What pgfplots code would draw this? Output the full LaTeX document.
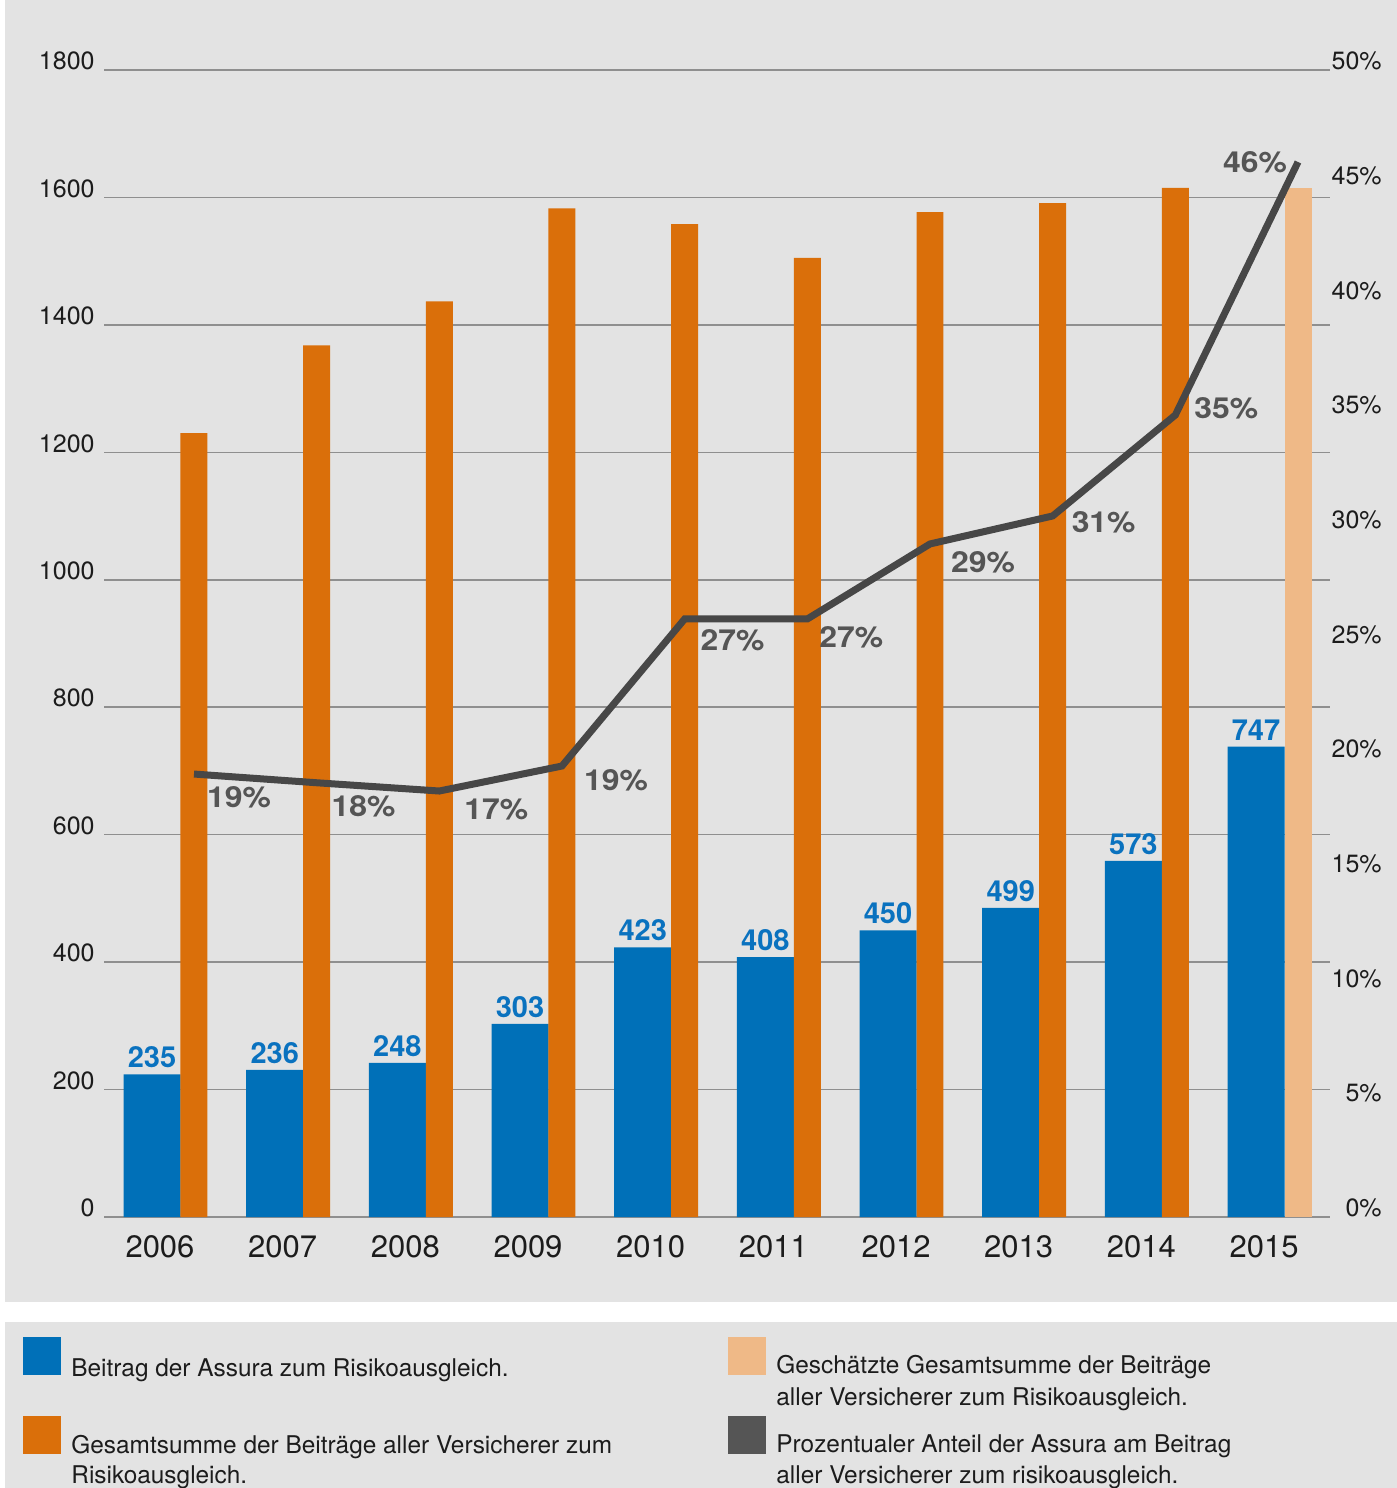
\documentclass[border=0pt]{standalone}
\usepackage{fontspec}
\setmainfont{TeX Gyre Heros}
\usepackage{pgfplots}
\pgfplotsset{compat=1.18}
\usepackage{pgfplotstable}

\definecolor{bg}{HTML}{E3E3E3}
\definecolor{cblue}{HTML}{0070B8}
\definecolor{corange}{HTML}{DA6F0A}
\definecolor{clight}{HTML}{EFB987}
\definecolor{cline}{HTML}{474747}
\definecolor{clab}{HTML}{555555}
\definecolor{cgrid}{HTML}{8F8F8F}
\definecolor{cblab}{HTML}{0A72BF}
\definecolor{ctext}{HTML}{1C1C1C}

% Assura contribution (blue bars): drawn height and printed label
\pgfplotstableread{
x y lab
-0.065 224 235
0.935 231 236
1.935 242 248
2.935 303 303
3.935 423 423
4.935 408 408
5.935 450 450
6.935 485 499
7.935 559 573
8.935 738 747
}\bluedata

% total of all insurers (orange bars)
\pgfplotstableread{
x y
0.277 1230
1.277 1368
2.277 1437
3.277 1583
4.277 1558
5.277 1505
6.277 1577
7.277 1591
8.277 1615
}\orangedata

% estimated total 2015
\pgfplotstableread{
x y
9.277 1615
}\lightdata

% share of Assura in percent
\pgfplotstableread{
x y lab dx dy
0.277 19.31 19 22.5 -11.5
1.277 18.93 18 23.5 -12
2.277 18.57 17 28.5 -9
3.277 19.66 19 27 -7
4.277 26.07 27 24 -10.5
5.277 26.07 27 22 -9
6.277 29.34 29 26.5 -9
7.277 30.56 31 25.5 -3
8.277 34.96 35 25.5 3.5
9.277 45.99 46 -21.5 0
}\pctdata

\begin{document}
\begin{tikzpicture}
\useasboundingbox (0,0) rectangle (698.5pt,-744pt);
\begin{scope}[x=0.5pt,y=-0.5pt]
\fill[white] (0,0) rectangle (1397,1488);
\fill[bg] (5,0) rectangle (1397,1302);
\fill[bg] (5,1322) rectangle (1397,1488);
% legend
\fill[cblue] (23,1337) rectangle (61,1375);
\fill[corange] (23,1416) rectangle (61,1454);
\fill[clight] (728,1337) rectangle (766,1375);
\fill[clab] (728,1416) rectangle (766,1454);
\begin{scope}[every node/.style={anchor=base west, inner sep=0pt, text=ctext, font=\fontsize{12.2}{14}\selectfont}]
\node at (71,1376) {Beitrag der Assura zum Risikoausgleich.};
\node at (71,1453) {Gesamtsumme der Beiträge aller Versicherer zum};
\node at (71,1483) {Risikoausgleich.};
\node at (776,1373) {Geschätzte Gesamtsumme der Beiträge};
\node at (776,1405) {aller Versicherer zum Risikoausgleich.};
\node at (776,1452) {Prozentualer Anteil der Assura am Beitrag};
\node at (776,1483) {aller Versicherer zum risikoausgleich.};
\end{scope}
\end{scope}

\begin{axis}[
  at={(52pt,-608.5pt)}, anchor=south west,
  scale only axis, width=613pt, height=573.5pt,
  xmin=-0.4565, xmax=9.538, ymin=0, ymax=1800,
  axis line style={draw=none},
  major tick length=0pt,
  ytick={0,200,...,1800},
  xtick={0,1,2,3,4,5,6,7,8,9},
  xticklabels={2006,2007,2008,2009,2010,2011,2012,2013,2014,2015},
  ymajorgrids, grid style={cgrid, line width=0.75pt},
  /pgf/number format/assume math mode=true,
  /pgf/number format/1000 sep={},
  yticklabel style={font=\fontsize{12.5}{15}\selectfont, text=ctext, anchor=east, inner sep=0pt, xshift=-4.5pt, yshift=4.5pt},
  xticklabel style={font=\fontsize{15.5}{18}\selectfont, text=ctext, anchor=north, inner sep=0pt, yshift=-9pt},
]
\addplot[ybar, bar width=0.465, bar shift=0pt, fill=cblue, draw=none,
  point meta=explicit symbolic, nodes near coords,
  nodes near coords style={anchor=south, inner sep=0pt, yshift=3pt, text=cblab, font=\fontsize{14.5}{16}\selectfont\bfseries}]
  table[x=x, y=y, meta=lab] {\bluedata};
\addplot[ybar, bar width=0.22, bar shift=0pt, fill=corange, draw=none]
  table[x=x, y=y] {\orangedata};
\addplot[ybar, bar width=0.22, bar shift=0pt, fill=clight, draw=none]
  table[x=x, y=y] {\lightdata};
\end{axis}

\begin{axis}[
  at={(52pt,-608.5pt)}, anchor=south west,
  scale only axis, width=613pt, height=573.5pt,
  xmin=-0.4565, xmax=9.538, ymin=0, ymax=50,
  axis y line*=right, axis x line=none,
  axis line style={draw=none},
  major tick length=0pt,
  xtick=\empty,
  ytick={0,5,...,50},
  yticklabel={\pgfmathprintnumber{\tick}\%},
  /pgf/number format/assume math mode=true,
  yticklabel style={font=\fontsize{12.5}{15}\selectfont, text=ctext, anchor=east, inner sep=0pt, xshift=26pt, yshift=4.5pt},
]
\addplot[cline, line width=3.5pt, mark=none,
  point meta=explicit symbolic, nodes near coords={\pgfplotspointmeta\%},
  visualization depends on={\thisrow{dx}\as\dx},
  visualization depends on={\thisrow{dy}\as\dy},
  nodes near coords style={anchor=center, inner sep=0pt, xshift=\dx pt, yshift=\dy pt, text=clab, font=\fontsize{14.5}{16}\selectfont\bfseries\addfontfeatures{FakeStretch=1.1}}]
  table[x=x, y=y, meta=lab] {\pctdata};
\end{axis}
\end{tikzpicture}
\end{document}
